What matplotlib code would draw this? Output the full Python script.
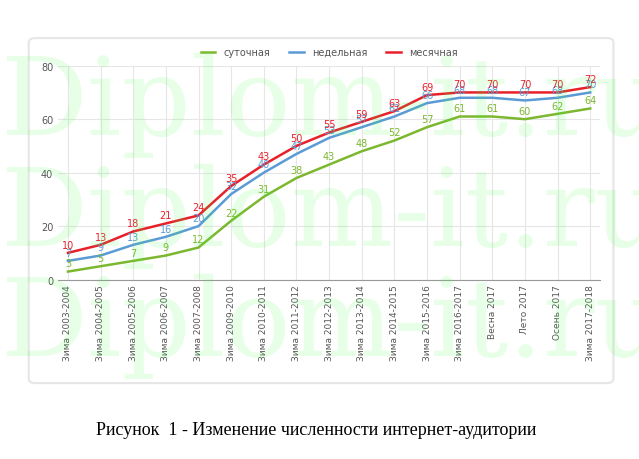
import matplotlib
matplotlib.use("Agg")
import matplotlib.pyplot as plt
from matplotlib.patches import FancyBboxPatch

categories = ["Зима 2003-2004","Зима 2004-2005","Зима 2005-2006","Зима 2006-2007","Зима 2007-2008",
              "Зима 2009-2010","Зима 2010-2011","Зима 2011-2012","Зима 2012-2013","Зима 2013-2014",
              "Зима 2014-2015","Зима 2015-2016","Зима 2016-2017","Весна 2017","Лето 2017","Осень 2017",
              "Зима 2017-2018"]
daily = [3,5,7,9,12,22,31,38,43,48,52,57,61,61,60,62,64]
weekly = [7,9,13,16,20,32,40,47,53,57,61,66,68,68,67,68,70]
monthly = [10,13,18,21,24,35,43,50,55,59,63,69,70,70,70,70,72]
names = ["суточная","недельная","месячная"]
colors = ["#7cb82f","#5b9bd5","#e8202a"]

fig = plt.figure(figsize=(6.39,4.60), dpi=100)
fig.patch.set_facecolor("white")
panel = FancyBboxPatch((0.045,0.165),0.915,0.75, boxstyle="round,pad=0,rounding_size=0.01",
                       transform=fig.transFigure, facecolor="white", edgecolor="#e6e6e6", lw=1.5, zorder=0)
fig.patches.append(panel)
ax = fig.add_axes([0.091,0.39,0.848,0.465])
ax.set_zorder(2)
ax.patch.set_alpha(0)
x = list(range(len(categories)))
for vals, c, n in zip([daily, weekly, monthly], colors, names):
    ax.plot(x, vals, color=c, lw=1.8, label=n)
    for xi, v in zip(x, vals):
        ax.text(xi, v+1.2, str(v), color=c, fontsize=7, ha="center", va="bottom")
ax.set_xlim(-0.3, 16.3)
ax.set_ylim(0, 80)
ax.set_yticks([0,20,40,60,80])
ax.set_xticks(x)
ax.set_xticklabels(categories, rotation=90, fontsize=6.5, color="#555555")
ax.tick_params(axis="y", labelsize=7, colors="#555555", length=0)
ax.tick_params(axis="x", length=0)
ax.grid(True, color="#e6e6e6", lw=0.8)
for s in ["top","right","left"]:
    ax.spines[s].set_visible(False)
ax.spines["bottom"].set_color("#999999")
ax.legend(loc="lower center", bbox_to_anchor=(0.5,1.0), ncol=3, frameon=False, fontsize=7,
          handlelength=1.5, labelcolor="#555555")
for yy in [0.77, 0.53, 0.29]:
    fig.text(0.0, yy, "Diplom-it.ru", fontsize=78, family="DejaVu Serif", color="#33ff33",
             alpha=0.12, ha="left", va="center", zorder=5)
fig.text(0.15, 0.065, "Рисунок  1 - Изменение численности интернет-аудитории",
         family="Liberation Serif", fontsize=13, ha="left", va="center")
fig.savefig("out.png", dpi=100)
